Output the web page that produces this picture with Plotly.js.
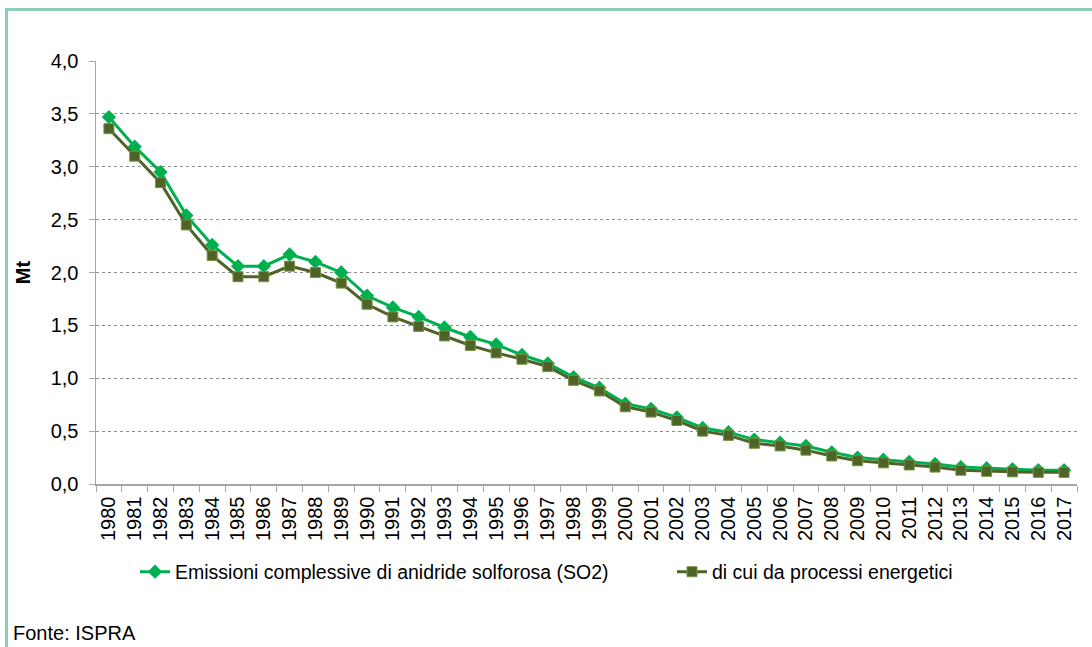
<!DOCTYPE html>
<html>
<head>
<meta charset="utf-8">
<script src="https://cdn.plot.ly/plotly-3.0.1.min.js"></script>
<style>
  html, body { margin: 0; padding: 0; background: #ffffff; }
  #wrap { position: relative; width: 1092px; height: 647px; overflow: hidden; }
  #chart { width: 1092px; height: 647px; }
  #frame { position: absolute; left: 5px; top: 8px; width: 1200px; height: 800px;
           border-left: 3px solid #8ccfb5; border-top: 3px solid #8ccfb5; pointer-events: none; }
</style>
</head>
<body>
<div id="wrap">
  <div id="chart"></div>
  <div id="frame"></div>
</div>
<script>
const years = ["1980","1981","1982","1983","1984","1985","1986","1987","1988","1989",
  "1990","1991","1992","1993","1994","1995","1996","1997","1998","1999",
  "2000","2001","2002","2003","2004","2005","2006","2007","2008","2009",
  "2010","2011","2012","2013","2014","2015","2016","2017"];

const totalSO2 = [3.47, 3.19, 2.95, 2.54, 2.26, 2.06, 2.06, 2.17, 2.10, 2.00,
  1.78, 1.67, 1.58, 1.48, 1.39, 1.32, 1.22, 1.14, 1.01, 0.91,
  0.76, 0.71, 0.63, 0.53, 0.49, 0.42, 0.39, 0.36, 0.30, 0.25,
  0.23, 0.21, 0.19, 0.16, 0.15, 0.14, 0.13, 0.13];

const energySO2 = [3.36, 3.10, 2.85, 2.45, 2.16, 1.96, 1.96, 2.06, 2.00, 1.90,
  1.70, 1.58, 1.49, 1.40, 1.31, 1.24, 1.18, 1.11, 0.98, 0.88,
  0.73, 0.68, 0.60, 0.50, 0.46, 0.385, 0.36, 0.32, 0.265, 0.22,
  0.20, 0.18, 0.16, 0.13, 0.12, 0.115, 0.11, 0.11];

const seriesNames = ["Emissioni complessive di anidride solforosa (SO2)", "di cui da processi energetici"];
const yTickVals = [0, 0.5, 1, 1.5, 2, 2.5, 3, 3.5, 4];

const FONT = "Liberation Sans, Arial, sans-serif";

const traces = [
  {
    x: years, y: totalSO2, name: seriesNames[0], type: "scatter", mode: "lines+markers",
    line: { color: "#00b050", width: 3 },
    marker: { symbol: "diamond", size: 11, color: "#00b050" },
    legend: "legend"
  },
  {
    x: years, y: energySO2, name: seriesNames[1], type: "scatter", mode: "lines+markers",
    line: { color: "#4f6228", width: 3 },
    marker: { symbol: "square", size: 10, color: "#4f6228", line: { color: "#77933c", width: 1 } },
    legend: "legend2"
  }
];

const legendFont = { family: FONT, size: 19.5, color: "#000000" };

const layout = {
  width: 1092, height: 647,
  margin: { l: 96, r: 15, t: 61, b: 163, autoexpand: false },
  paper_bgcolor: "#ffffff", plot_bgcolor: "#ffffff",
  font: { family: FONT, size: 20, color: "#000000" },
  separators: ",.",
  showlegend: true,
  legend: {
    orientation: "h", xref: "container", yref: "container",
    x: 135/1092, xanchor: "left", y: 0.146, yanchor: "top",
    font: legendFont, itemwidth: 30, bgcolor: "rgba(0,0,0,0)"
  },
  legend2: {
    orientation: "h", xref: "container", yref: "container",
    x: 672/1092, xanchor: "left", y: 0.146, yanchor: "top",
    font: legendFont, itemwidth: 30, bgcolor: "rgba(0,0,0,0)"
  },
  xaxis: {
    type: "category", range: [-0.5, 37.5], autorange: false,
    tickmode: "array", tickvals: years, ticktext: years,
    tickangle: -90, tickson: "boundaries", ticklabelstandoff: 3,
    ticks: "outside", ticklen: 6, tickcolor: "#a6a6a6", tickwidth: 1,
    showline: true, linecolor: "#a6a6a6", linewidth: 1.5,
    showgrid: false, zeroline: false, automargin: false,
    tickfont: { family: FONT, size: 20, color: "#000000" }
  },
  yaxis: {
    range: [0, 4], autorange: false, tickvals: yTickVals, tickformat: ".1f",
    ticks: "outside", ticklen: 6, tickcolor: "#a6a6a6", tickwidth: 1, ticklabelstandoff: 6,
    showline: true, linecolor: "#a6a6a6", linewidth: 1.5,
    showgrid: true, gridcolor: "#8c8c8c", gridwidth: 1, griddash: "dot",
    zeroline: false, automargin: false,
    tickfont: { family: FONT, size: 20, color: "#000000" },
    title: { text: "Mt", font: { family: FONT, size: 20, weight: "bold", color: "#000000" }, standoff: 14 }
  },
  annotations: [
    {
      text: "Fonte: ISPRA", xref: "paper", yref: "paper",
      x: -96/981, xanchor: "left", showarrow: false,
      y: -149/423, yanchor: "middle",
      xshift: 11,
      font: { family: FONT, size: 20, color: "#000000" }
    }
  ]
};

Plotly.newPlot("chart", traces, layout, { displayModeBar: false, staticPlot: true });
</script>
</body>
</html>
